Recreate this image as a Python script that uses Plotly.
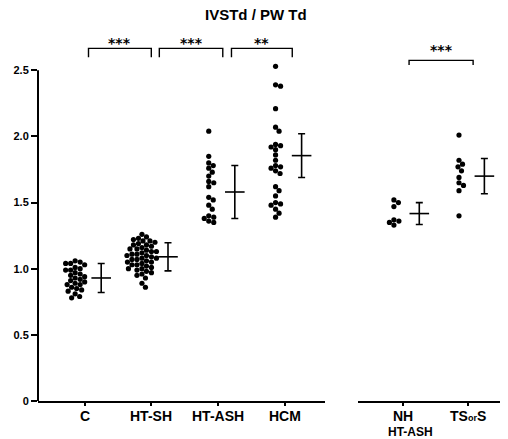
import plotly.graph_objects as go

# ---------------- data ----------------
left_groups = ["C", "HT-SH", "HT-ASH", "HCM"]
right_groups = ["NH", "TS<span style='font-size:9px'>or</span>S"]

C_vals = [1.06, 1.05, 1.04, 1.04, 1.03, 1.01, 1.00, 0.99, 0.99, 0.97, 0.96, 0.95, 0.94,
          0.93, 0.92, 0.91, 0.90, 0.89, 0.88, 0.88, 0.86, 0.85, 0.84, 0.83, 0.81, 0.79, 0.78]
HTSH_vals = [1.26, 1.24, 1.23, 1.22, 1.21, 1.21, 1.20, 1.19, 1.18, 1.18, 1.17, 1.16, 1.15,
             1.15, 1.14, 1.13, 1.13, 1.12, 1.11, 1.11, 1.10, 1.10, 1.09, 1.08, 1.08, 1.07,
             1.07, 1.06, 1.05, 1.05, 1.04, 1.03, 1.03, 1.02, 1.01, 1.00, 1.00, 0.99, 0.98,
             0.97, 0.96, 0.95, 0.93, 0.89, 0.86]
HTASH_vals = [2.04, 1.85, 1.80, 1.78, 1.76, 1.73, 1.70, 1.66, 1.65, 1.62, 1.54, 1.52, 1.48,
              1.45, 1.40, 1.39, 1.38, 1.36, 1.35]
HCM_vals = [2.53, 2.39, 2.38, 2.21, 2.07, 2.04, 1.94, 1.93, 1.92, 1.90, 1.86, 1.82, 1.78,
            1.77, 1.76, 1.74, 1.72, 1.62, 1.59, 1.55, 1.50, 1.49, 1.48, 1.45, 1.42, 1.39]
NH_vals = [1.52, 1.50, 1.47, 1.37, 1.36, 1.35, 1.33]
TS_vals = [2.01, 1.82, 1.79, 1.77, 1.74, 1.69, 1.65, 1.63, 1.59, 1.40]

left_means = [0.93, 1.09, 1.58, 1.855]
left_sds = [0.11, 0.106, 0.20, 0.165]
right_means = [1.417, 1.70]
right_sds = [0.083, 0.133]

left_sig = [(1, 2, "***"), (2, 3, "***"), (3, 4, "**")]
right_sig = [(1, 2, "***")]

y_tickvals = [0, 0.5, 1.0, 1.5, 2.0, 2.5]
y_ticktext = ["0", "0.5", "1.0", "1.5", "2.0", "2.5"]

# ---------------- layout geometry ----------------
ML, MR, MT, MB = 38, 8, 24, 38
W, H = 508, 439
YR = [0, 2.85]
XR1 = [0.304, 4.60]
XR2 = [0.308, 2.49]
D1 = [0, 0.6212]
D2 = [0.6926, 1.0]
PW = W - ML - MR
PH = H - MT - MB
ys = PH / (YR[1] - YR[0])
xs1 = (D1[1] - D1[0]) * PW / (XR1[1] - XR1[0])
xs2 = (D2[1] - D2[0]) * PW / (XR2[1] - XR2[0])

DOT_SHIFT = -0.14
BAR_SHIFT = 0.25


def py2paper(py):
    return (H - MB - py) / PH


def swarm(vals, xscale, d=5.0):
    placed = []
    offs = []
    for v in vals:
        y = v * ys
        best = None
        k = 0
        while best is None:
            for cand in ([0.0] if k == 0 else [k * 0.5, -k * 0.5]):
                if all((cand - px) ** 2 + (y - py) ** 2 >= d * d for px, py in placed):
                    best = cand
                    break
            k += 1
        placed.append((best, y))
        offs.append(best / xscale)
    return offs


fig = go.Figure()

for i, vals in enumerate([C_vals, HTSH_vals, HTASH_vals, HCM_vals]):
    offs = swarm(vals, xs1)
    fig.add_trace(go.Scatter(
        x=[i + 1 + DOT_SHIFT + o for o in offs], y=vals, mode="markers",
        marker=dict(color="black", size=5.2), xaxis="x", yaxis="y",
        cliponaxis=False, showlegend=False, hoverinfo="skip"))

for i, vals in enumerate([NH_vals, TS_vals]):
    offs = swarm(vals, xs2)
    fig.add_trace(go.Scatter(
        x=[i + 1 + DOT_SHIFT + o for o in offs], y=vals, mode="markers",
        marker=dict(color="black", size=5.2), xaxis="x2", yaxis="y",
        cliponaxis=False, showlegend=False, hoverinfo="skip"))

# mean +- SD bars
for xa, means, sds in [("x", left_means, left_sds), ("x2", right_means, right_sds)]:
    fig.add_trace(go.Scatter(
        x=[k + 1 + BAR_SHIFT for k in range(len(means))], y=means, mode="markers",
        marker=dict(symbol="line-ew", size=14, line=dict(color="black", width=1.6)),
        error_y=dict(type="data", array=sds, visible=True, color="black",
                     thickness=1.6, width=3.5),
        xaxis=xa, yaxis="y", showlegend=False, hoverinfo="skip"))

shapes = []
annotations = []
# y axis line (only up to 2.5)
shapes.append(dict(type="line", xref="paper", yref="y", x0=0, x1=0, y0=0, y1=2.5,
                   line=dict(color="black", width=2)))

star_font = dict(size=14, color="black", family="DejaVu Sans", weight="bold")
# significance brackets
br_left = {(1, 2): (1.06, 2.0), (2, 3): (2.12, 3.07), (3, 4): (3.2, 4.11)}
for a, b, txt in left_sig:
    x0, x1 = br_left[(a, b)]
    top, bot = 2.666, 2.598
    shapes.append(dict(type="path", xref="x", yref="y",
                       path=f"M {x0} {bot} L {x0} {top} L {x1} {top} L {x1} {bot}",
                       line=dict(color="black", width=1.4)))
    annotations.append(dict(x=(x0 + x1) / 2, y=2.705, xref="x", yref="y", text=txt,
                            showarrow=False, font=star_font, yanchor="middle"))
for a, b, txt in right_sig:
    x0, x1 = 1.093, 2.077
    top, bot = 2.575, 2.54
    shapes.append(dict(type="path", xref="x2", yref="y",
                       path=f"M {x0} {bot} L {x0} {top} L {x1} {top} L {x1} {bot}",
                       line=dict(color="black", width=1.4)))
    annotations.append(dict(x=(x0 + x1) / 2, y=2.65, xref="x2", yref="y", text=txt,
                            showarrow=False, font=star_font, yanchor="middle"))

axis_font = dict(size=14, color="black", family="Liberation Sans", weight="bold")
# category labels (placed close under the axis, as in the original)
for xa, groups in [("x", left_groups), ("x2", right_groups)]:
    for k, g in enumerate(groups):
        annotations.append(dict(x=k + 1, y=py2paper(406), xref=xa, yref="paper", text=g,
                                showarrow=False, yanchor="top", font=axis_font))

annotations.append(dict(x=(256 - ML) / PW, y=py2paper(15), xref="paper", yref="paper",
                        text="IVSTd / PW Td", showarrow=False, yanchor="middle",
                        font=dict(size=15, color="black", family="Liberation Sans", weight="bold")))
annotations.append(dict(x=(435 - ML) / PW, y=py2paper(441), xref="paper", yref="paper",
                        text="HT-ASH", showarrow=False, yanchor="bottom",
                        font=dict(size=12, color="black", family="Liberation Sans", weight="bold")))

fig.update_layout(
    width=W, height=H, margin=dict(l=ML, r=MR, t=MT, b=MB),
    paper_bgcolor="white", plot_bgcolor="white",
    shapes=shapes, annotations=annotations,
    xaxis=dict(domain=D1, range=XR1, tickvals=[1, 2, 3, 4], showticklabels=False,
               showline=True, linecolor="black", linewidth=2, ticks="outside",
               ticklen=3, tickwidth=1.5, tickcolor="black",
               showgrid=False, zeroline=False, anchor="y", fixedrange=True),
    xaxis2=dict(domain=D2, range=XR2, tickvals=[1, 2], showticklabels=False,
                showline=True, linecolor="black", linewidth=2, ticks="outside",
                ticklen=3, tickwidth=1.5, tickcolor="black",
                showgrid=False, zeroline=False, anchor="y", fixedrange=True),
    yaxis=dict(range=YR, tickvals=y_tickvals, ticktext=y_ticktext, showline=False,
               ticks="outside", ticklen=6, tickwidth=1.5, tickcolor="black",
               tickfont=dict(size=11, color="black", family="Liberation Sans", weight="bold"),
               showgrid=False, zeroline=False, fixedrange=True),
)

fig.write_html("out.html")
